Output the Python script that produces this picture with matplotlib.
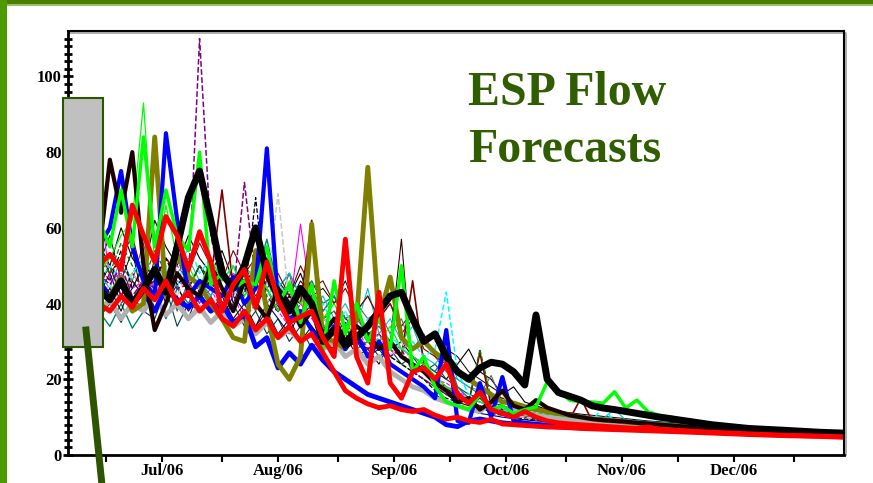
import datetime as dt
import matplotlib
matplotlib.use("Agg")
import matplotlib.pyplot as plt
import matplotlib.dates as mdates
from matplotlib.patches import Rectangle
from matplotlib.lines import Line2D
import pandas as pd

# forecast dates: every 3 days from Jun 29 to Nov 29, then a coarse tail
dates = list(pd.date_range("2006-06-29", periods=52, freq="3D")) + \
    [pd.Timestamp(d) for d in ["2006-12-10", "2006-12-20", "2006-12-30", "2007-01-08", "2007-01-14"]]

black_thick = [44, 41, 46, 40, 44, 49, 43, 55, 68, 75,
               62, 48, 44, 50, 60, 48, 42, 38, 44, 40,
               30, 33, 29, 31, 34, 38, 42, 43, 36, 30,
               32, 26, 22, 20, 23, 24.5, 24, 22, 18.5, 37,
               20, 16.5, 15.5, 14.5, 13, 12.4, 12, 11.5, 11, 10.5, 10, 9.6,
               8, 7, 6.5, 6, 5.8]
darkbrown = [52, 78, 64, 80, 50, 33, 40, 48, 44, 42,
             50, 44, 38, 46, 40, 36, 44, 40, 34, 38,
             32, 36, 30, 34, 32, 28, 30, 26, 24, 22,
             19, 17, 14, 15, 12, 14, 17, 13, 12, 14.5,
             12.5, 11.5, 10.5, 10, 9.5, 9.2, 9, 8.8, 8.5, 8.3, 8, 7.8,
             7, 6.3, 5.9, 5.6, 5.4]
red1 = [50, 53, 49, 66, 58, 51, 63, 58, 49, 59,
        51, 38, 45, 49, 39, 51, 41, 35, 36.5, 38,
        31, 26, 57, 26, 19, 43, 19, 15, 22, 23,
        20, 24, 16, 13.7, 16.6, 12, 11, 10, 11.5, 10,
        9, 8.5, 8.2, 8, 7.8, 7.6, 7.4, 7.2, 7, 7.4, 6.8, 6.6,
        6, 5.6, 5.2, 5, 4.8]
red2 = [40, 38, 42, 39, 44, 41, 46, 40, 43, 38,
        41, 36, 34, 38, 33, 36, 31, 34, 30, 32,
        27, 22, 17, 15, 13.5, 12.5, 13, 12, 11.5, 12,
        10.5, 9.5, 10, 9, 8.6, 9.4, 8.2, 8, 7.8, 7.6,
        7.4, 7.3, 7.2, 7, 6.9, 6.8, 6.7, 6.6, 6.5, 6.4, 6.3, 6.2,
        5.8, 5.4, 5.1, 4.9, 4.7]
blue1 = [55, 60, 75, 55, 46, 42, 85, 62, 42, 46,
         44, 42, 47, 40, 44, 81, 40, 36, 38, 33,
         30, 34, 28, 32, 26, 30, 24, 22, 20, 18,
         15, 33, 9, 8.5, 19, 10, 20.6, 9, 8.5, 8.2,
         8, 7.8, 7.6, 7.4, 7.2, 7, 6.9, 6.8, 6.7, 6.6, 6.5, 6.4,
         6, 5.6, 5.3, 5.1, 5]
blue2 = [46, 42, 45, 40, 43, 38, 44, 41, 39, 42,
         38, 40, 35, 37, 28.6, 31, 23, 27, 24, 29,
         25, 22, 20, 18, 16, 15, 14, 13, 12, 11,
         10, 8, 7.5, 9, 9.5, 9, 8.5, 8.2, 8, 7.8,
         7.6, 7.5, 7.4, 7.3, 7.2, 7.1, 7, 6.9, 6.8, 6.7, 6.6, 6.5,
         6, 5.6, 5.3, 5.1, 5]
green_thick = [62, 55, 70, 55, 84, 55, 70, 58, 54, 80,
               45, 48, 44, 46, 45, 55, 40, 45, 35, 45,
               28, 46, 32, 40, 30, 36, 28, 50, 22, 26,
               18, 14, 13, 12, 16, 12, 13, 11, 12, 12.7,
               19.3, 17, 14.5, 14, 14, 13.7, 16.7, 12.4, 14.5, 11.4, 10.5, 10,
               7.8, 6.8, 6.2, 5.9, 5.7]
green_thin = [48, 52, 58, 62, 93, 50, 66, 52, 50, 44,
              52, 46, 50, 42, 48, 44, 38, 46, 40, 44,
              36, 40, 34, 38, 32, 30, 34, 28, 26, 24,
              21, 18, 16, 15, 14, 13, 12.5, 12, 11.5, 11,
              10.5, 10.2, 10, 9.8, 9.5, 9.3, 9.1, 8.9, 8.7, 8.5, 8.3, 8.1,
              7.2, 6.5, 6, 5.7, 5.5]
olive = [43, 42, 47, 38, 40, 84, 42, 53, 47, 45,
         40, 36, 31, 30, 54, 38, 24, 20, 26, 61,
         31, 30, 28, 36, 76, 36, 47, 31, 28, 30,
         27, 25, 22, 20, 18, 16, 14, 13.7, 12.8, 12,
         11.5, 11, 10.5, 10, 9.5, 9.2, 9, 8.7, 8.4, 8.2, 8, 7.8,
         7, 6.4, 6, 5.6, 5.4]
purple_dash = [48, 45, 50, 42, 46, 44, 48, 44, 45, 110,
               58, 44, 42, 72, 46, 42, 38, 44, 36, 40,
               34, 36, 30, 32, 28, 30, 26, 28, 22, 20,
               18, 16, 15, 14, 13, 12, 11.5, 11, 10.5, 10,
               9.8, 9.5, 9.2, 9, 8.8, 8.6, 8.4, 8.2, 8, 7.8, 7.6, 7.4,
               6.8, 6.2, 5.8, 5.5, 5.3]
black_dash = [50, 46, 54, 44, 50, 47, 52, 45, 48, 43,
              46, 40, 44, 42, 68, 40, 38, 42, 36, 38,
              34, 32, 35, 30, 28, 30, 26, 24, 22, 20,
              17, 15, 14, 12, 13, 11, 10.5, 10, 9.5, 9.2,
              9, 8.8, 8.6, 8.4, 8.2, 8, 7.9, 7.8, 7.7, 7.6, 7.5, 7.4,
              6.8, 6.2, 5.8, 5.5, 5.3]
gray_dash = [42, 45, 40, 48, 44, 50, 46, 42, 48, 45,
             44, 48, 42, 46, 50, 44, 69, 40, 44, 38,
             36, 34, 38, 30, 32, 28, 26, 30, 24, 22,
             20, 18, 16, 14, 13, 12, 11, 10.5, 10, 9.6,
             9.3, 9, 8.8, 8.6, 8.4, 8.2, 8, 7.8, 7.6, 7.4, 7.2, 7,
             6.5, 6, 5.6, 5.4, 5.2]
darkred = [45, 50, 42, 48, 44, 46, 52, 48, 44, 50,
           46, 70, 44, 46, 40, 44, 38, 42, 40, 62,
           36, 34, 32, 38, 30, 28, 30, 26, 46, 24,
           20, 18, 15, 14, 27, 13, 12, 11, 10.5, 10,
           9.8, 9.6, 9.4, 15, 9, 8.8, 8.6, 8.4, 8.2, 8, 7.8, 7.6,
           6.9, 6.3, 5.9, 5.6, 5.4]
darkthin = [40, 44, 38, 46, 42, 48, 40, 45, 38, 42,
            38, 42, 36, 40, 34, 38, 32, 36, 30, 34,
            30, 28, 32, 26, 28, 24, 30, 57, 22, 24,
            18, 16, 14, 13, 15, 12, 11, 10.5, 10, 9.5,
            9.2, 9, 8.8, 8.6, 8.4, 8.2, 8, 7.8, 7.6, 7.4, 7.2, 7,
            6.4, 5.9, 5.5, 5.3, 5.1]
cyan_dash = [46, 50, 44, 48, 52, 46, 50, 44, 56, 48,
             52, 46, 50, 44, 48, 42, 46, 40, 44, 38,
             40, 34, 38, 32, 36, 30, 32, 28, 30, 26,
             28, 43, 22, 16, 14, 13, 12, 11, 12, 10.5,
             10, 9.6, 9.3, 9, 8.8, 13, 8.5, 8.2, 8, 7.8, 7.6, 7.4,
             6.7, 6.1, 5.7, 5.4, 5.2]
teal = [38, 34, 40, 33.5, 38, 42, 36, 44, 40, 46,
        42, 48, 44, 50, 46, 57, 44, 48, 42, 46,
        40, 42, 36, 38, 32, 34, 30, 28, 26, 24,
        22, 27, 18, 15, 14, 13, 12, 11, 10.5, 10,
        9.7, 9.4, 9.2, 9, 8.8, 8.6, 8.4, 8.2, 8, 7.9, 7.8, 7.7,
        6.9, 6.3, 5.9, 5.6, 5.4]
magenta = [70, 46, 48, 44, 46, 42, 48, 46, 44, 50,
           46, 42, 48, 44, 40, 46, 42, 38, 61, 40,
           36, 38, 34, 36, 32, 30, 28, 26, 24, 22,
           20, 18, 17, 14, 13, 12, 11.5, 11, 10.5, 10,
           9.7, 9.4, 9.1, 8.8, 8.6, 8.4, 8.2, 8, 7.8, 7.6, 7.4, 7.2,
           6.5, 5.9, 5.5, 5.2, 5]
gray_thick = [38, 41, 36, 40, 38, 42, 37, 40, 36, 39,
              35, 38, 34, 36, 32, 35, 31, 33, 30, 32,
              28, 30, 26, 28, 24, 26, 22, 20, 18, 17,
              15, 14, 13, 12, 11.5, 14, 17, 12, 11, 10.5,
              10, 9.6, 9.3, 9, 8.7, 8.5, 8.3, 8.1, 7.9, 7.7, 7.5, 7.3,
              6.6, 6, 5.6, 5.3, 5.1]
navy = [42, 48, 40, 44, 50, 38, 46, 42, 36, 44,
        40, 36, 42, 38, 34, 40, 36, 32, 38, 34,
        30, 32, 28, 30, 26, 28, 24, 22, 20, 18,
        16, 14, 13, 12, 11, 10.5, 10, 9.6, 9.3, 9,
        8.8, 8.6, 8.4, 8.2, 8, 7.8, 7.6, 7.4, 7.2, 7, 6.9, 6.8,
        6.2, 5.7, 5.4, 5.1, 4.9]
darkgreen_dash = [52, 48, 56, 50, 46, 54, 48, 52, 44, 50,
                  46, 50, 42, 48, 44, 46, 40, 44, 38, 42,
                  36, 38, 32, 34, 30, 28, 26, 24, 22, 20,
                  18, 16, 15, 14, 28, 15, 13, 12, 11.5, 11,
                  10.6, 10.3, 10, 9.7, 9.4, 9.1, 8.8, 8.6, 8.4, 8.2, 8, 7.8,
                  7, 6.4, 6, 5.7, 5.5]
black_thin = [56, 50, 60, 52, 48, 62, 55, 50, 58, 52,
              48, 54, 46, 50, 44, 52, 46, 42, 48, 40,
              38, 42, 36, 34, 30, 32, 28, 30, 26, 24,
              22, 20, 24, 28, 22, 20, 16, 18, 14, 13,
              12, 11.5, 11, 10.5, 10, 9.8, 9.5, 9.2, 9, 8.8, 8.6, 8.4,
              7.4, 6.6, 6.1, 5.8, 5.6]
black_thin2 = [50, 58, 46, 54, 40, 52, 46, 58, 44, 50,
               44, 52, 40, 48, 42, 46, 44, 40, 46, 42,
               44, 40, 46, 38, 42, 36, 40, 34, 38, 30,
               32, 28, 26, 22, 20, 18, 16, 14, 13, 12.5,
               12, 11.6, 11.2, 10.8, 10.5, 10.2, 9.9, 9.6, 9.3, 9, 8.8, 8.6,
               7.6, 6.8, 6.2, 5.9, 5.7]
gray_thin = [44, 40, 50, 46, 56, 42, 48, 38, 46, 40,
             48, 42, 50, 44, 38, 46, 40, 48, 36, 44,
             38, 42, 34, 40, 36, 38, 32, 36, 28, 32,
             26, 22, 20, 18, 16, 21, 14, 13, 12, 11.5,
             11, 10.7, 10.4, 10.1, 9.8, 9.5, 9.2, 9, 8.8, 8.6, 8.4, 8.2,
             7.2, 6.5, 6, 5.7, 5.5]
darkteal = [36, 40, 35, 42, 38, 36, 44, 34, 40, 38,
            42, 36, 40, 34, 38, 32, 36, 30, 34, 28,
            32, 30, 34, 28, 30, 26, 28, 24, 26, 22,
            24, 20, 18, 16, 15, 14, 13, 12, 11.5, 11,
            10.6, 10.3, 10, 9.7, 9.4, 9.2, 9, 8.8, 8.6, 8.4, 8.2, 8,
            7, 6.4, 6, 5.7, 5.5]
darkred2 = [54, 48, 52, 58, 46, 50, 44, 54, 48, 56,
            50, 46, 54, 48, 52, 44, 48, 42, 50, 44,
            46, 40, 44, 38, 42, 36, 40, 32, 36, 28,
            26, 24, 22, 20, 18, 16, 15, 14, 13, 12,
            11.5, 11, 10.6, 10.2, 9.9, 9.6, 9.3, 9, 8.8, 8.6, 8.4, 8.2,
            7.3, 6.6, 6.1, 5.8, 5.6]
cyan_thin = [48, 44, 52, 46, 42, 50, 44, 48, 52, 46,
             42, 48, 44, 50, 46, 40, 44, 48, 42, 38,
             42, 36, 40, 34, 44, 32, 36, 30, 34, 26,
             24, 28, 20, 18, 17, 16, 15, 14, 13, 12,
             11.5, 11, 10.6, 10.3, 10, 9.7, 12, 9.2, 9, 8.8, 8.6, 8.4,
             7.4, 6.7, 6.2, 5.9, 5.6]
magenta_dash = [44, 50, 46, 40, 48, 44, 42, 50, 46, 40,
                44, 38, 42, 36, 40, 44, 38, 34, 40, 36,
                32, 36, 30, 34, 28, 32, 26, 30, 24, 22,
                20, 19, 17, 15, 14, 13, 12, 11.5, 11, 10.5,
                10.2, 9.9, 9.6, 9.3, 9, 8.8, 8.6, 8.4, 8.2, 8, 7.8, 7.6,
                6.8, 6.2, 5.8, 5.5, 5.3]

# (values, colour, width, style) - thin ones first so the heavy traces sit on top
traces = [
    (black_thin, "black", 0.8, "-"),
    (black_thin2, "black", 0.7, "-"),
    (gray_thin, "#606060", 0.8, "-"),
    (darkteal, "#004040", 0.8, "-"),
    (navy, "#000080", 0.8, "-"),
    (teal, "#008080", 1.0, "-"),
    (cyan_thin, "#00c0c0", 0.8, "-"),
    (magenta, "#ff00ff", 0.8, "-"),
    (magenta_dash, "#ff00ff", 0.8, "--"),
    (darkthin, "#300000", 0.8, "-"),
    (darkred, "#800000", 1.2, "-"),
    (darkred2, "#800000", 0.8, "-"),
    (darkgreen_dash, "#008000", 0.9, "--"),
    (cyan_dash, "#00ffff", 1.1, "--"),
    (gray_dash, "#c8c8c8", 1.1, "--"),
    (black_dash, "black", 0.9, "--"),
    (purple_dash, "#800080", 1.1, "--"),
    (green_thin, "#00ff00", 0.9, "-"),
    (gray_thick, "#b0b0b0", 3.5, "-"),
    (blue2, "#0000ff", 3.5, "-"),
    (olive, "#808000", 3.5, "-"),
    (blue1, "#0000ff", 3.0, "-"),
    (darkbrown, "#1a0000", 3.0, "-"),
    (green_thick, "#00ff00", 2.5, "-"),
    (black_thick, "black", 5.0, "-"),
    (red2, "#ff0000", 3.5, "-"),
    (red1, "#ff0000", 3.5, "-"),
]

W, H = 873, 483
fig = plt.figure(figsize=(W / 100, H / 100), dpi=100)
fig.patch.set_facecolor("white")

# faint grey shadow along the top and right of the plot frame
fig.add_artist(Line2D([69 / W, 846 / W, 846 / W], [1 - 33 / H, 1 - 33 / H, 1 - 455 / H],
                      transform=fig.transFigure, color="#a0a0a0", lw=1.2, zorder=-1))

ax = fig.add_axes([68 / W, 1 - 455 / H, (844 - 68) / W, (455 - 31) / H])
ax.patch.set_alpha(0)
for vals, col, lw, ls in traces:
    ax.plot(dates, vals, color=col, lw=lw, ls=ls, solid_joinstyle="round",
            solid_capstyle="round", dash_capstyle="butt")

jul1 = mdates.date2num(dt.datetime(2006, 7, 1))
ax.set_xlim(jul1 - 10.2, jul1 + 197.4)
ax.set_ylim(0, 112)

ax.xaxis.set_major_locator(mdates.MonthLocator())
ax.xaxis.set_major_formatter(plt.NullFormatter())
ax.xaxis.set_minor_locator(mdates.MonthLocator(bymonthday=16))
ax.xaxis.set_minor_formatter(mdates.DateFormatter("%b/%y"))
ax.tick_params(axis="x", which="both", direction="out", length=5, width=1.5, pad=1)
ax.set_yticks(range(0, 101, 20))
ax.set_yticks(range(0, 112, 2), minor=True)
ax.tick_params(axis="y", which="major", direction="inout", length=7, width=2, pad=1)
ax.tick_params(axis="y", which="minor", direction="inout", length=6, width=2)

for lab in ax.get_yticklabels() + ax.get_xticklabels(minor=True):
    lab.set_fontfamily("Liberation Serif")
    lab.set_fontweight("bold")
    lab.set_fontsize(12)

for side in ["left", "bottom"]:
    ax.spines[side].set_linewidth(2)
for side in ["top", "right"]:
    ax.spines[side].set_linewidth(1.5)

# green slide frame
fig.add_artist(Rectangle((0, 1 - 4 / H), 1, 4 / H, transform=fig.transFigure,
                         facecolor="#4a7d00", edgecolor="none"))
fig.add_artist(Rectangle((0, 1 - 5.5 / H), 1, 1.5 / H, transform=fig.transFigure,
                         facecolor="#9bbf6a", edgecolor="none"))
fig.add_artist(Rectangle((0, 0), 7 / W, 1, transform=fig.transFigure,
                         facecolor="#4c9a00", edgecolor="none"))

# grey box and pointer
fig.add_artist(Rectangle((63 / W, 1 - 347 / H), 40 / W, 249 / H, transform=fig.transFigure,
                         facecolor="#c0c0c0", edgecolor="#2d5500", lw=1.5, zorder=5))
fig.add_artist(Line2D([86 / W, 102.5 / W], [1 - 330 / H, 1 - 490 / H], transform=fig.transFigure,
                      color="#2d5500", lw=5, zorder=6))

title_kw = dict(family="Liberation Serif", weight="bold", size=34.5, color="#2f5d00",
                va="baseline", ha="left")
fig.text(468 / W, 1 - 105 / H, "ESP Flow", **title_kw)
fig.text(468 / W, 1 - 162 / H, "Forecasts", **title_kw)

fig.savefig("out.png", dpi=100)
